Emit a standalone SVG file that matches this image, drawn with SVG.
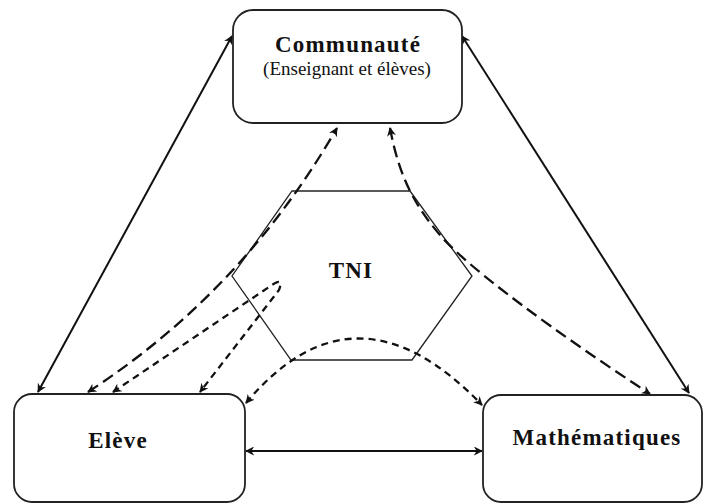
<svg xmlns="http://www.w3.org/2000/svg" width="704" height="504" viewBox="0 0 704 504">
<style>
.box{fill:#fff;stroke:#222;stroke-width:1.8}
.hex{fill:none;stroke:#222;stroke-width:1.3}
.t{font-family:"Liberation Serif","Times New Roman",serif;fill:#111;text-anchor:middle}
.b{font-weight:bold;font-size:23px;letter-spacing:1.2px}
.s{font-size:19px}
.solid{fill:none;stroke:#111;stroke-width:2;marker-start:url(#ah);marker-end:url(#ah)}
.dl{fill:none;stroke:#111;stroke-width:2.3;stroke-dasharray:12 6}
.ds{fill:none;stroke:#111;stroke-width:2.3;stroke-dasharray:7 5}
</style>
<defs>
<marker id="ah" viewBox="0 0 10 10" refX="9" refY="5" markerWidth="9" markerHeight="9" markerUnits="userSpaceOnUse" orient="auto-start-reverse">
<path d="M0,0 L10,5 L0,10 L3,5 Z" fill="#111"/>
</marker>
</defs>
<rect width="704" height="504" fill="#fff"/>
<g id="tni">
<polygon class="hex" points="292,191 410,191 472,276 412,360 291,360 232,276"/>
<text class="t b" x="351" y="278">TNI</text>
</g>
<g id="connectors">
<path class="solid" d="M38,392 L232,36"/>
<path class="solid" d="M462,36 L689,393"/>
<path class="solid" d="M246,451 L482,451"/>
<path class="dl" d="M88,392 Q242,292 337,128" marker-start="url(#ah)" marker-end="url(#ah)"/>
<path class="ds" d="M113,392 L272,285 Q284,277 279,290 L200,392" marker-start="url(#ah)" marker-end="url(#ah)"/>
<path class="ds" d="M246,403 Q355,273 482,405" marker-start="url(#ah)" marker-end="url(#ah)"/>
<path class="dl" d="M390,128 C398,170 410,200 440,235 S560,335 650,394" marker-start="url(#ah)" marker-end="url(#ah)"/>
</g>
<g id="communaute">
<rect class="box" x="233" y="10" width="229" height="113" rx="20"/>
<text class="t b" x="348" y="52">Communauté</text>
<text class="t s" x="347" y="75">(Enseignant et élèves)</text>
</g>
<g id="eleve">
<rect class="box" x="14" y="394" width="231" height="108" rx="18"/>
<text class="t b" x="118" y="448">Elève</text>
</g>
<g id="mathematiques">
<rect class="box" x="483" y="395" width="219" height="107" rx="18"/>
<text class="t b" x="597" y="445">Mathématiques</text>
</g>
</svg>
